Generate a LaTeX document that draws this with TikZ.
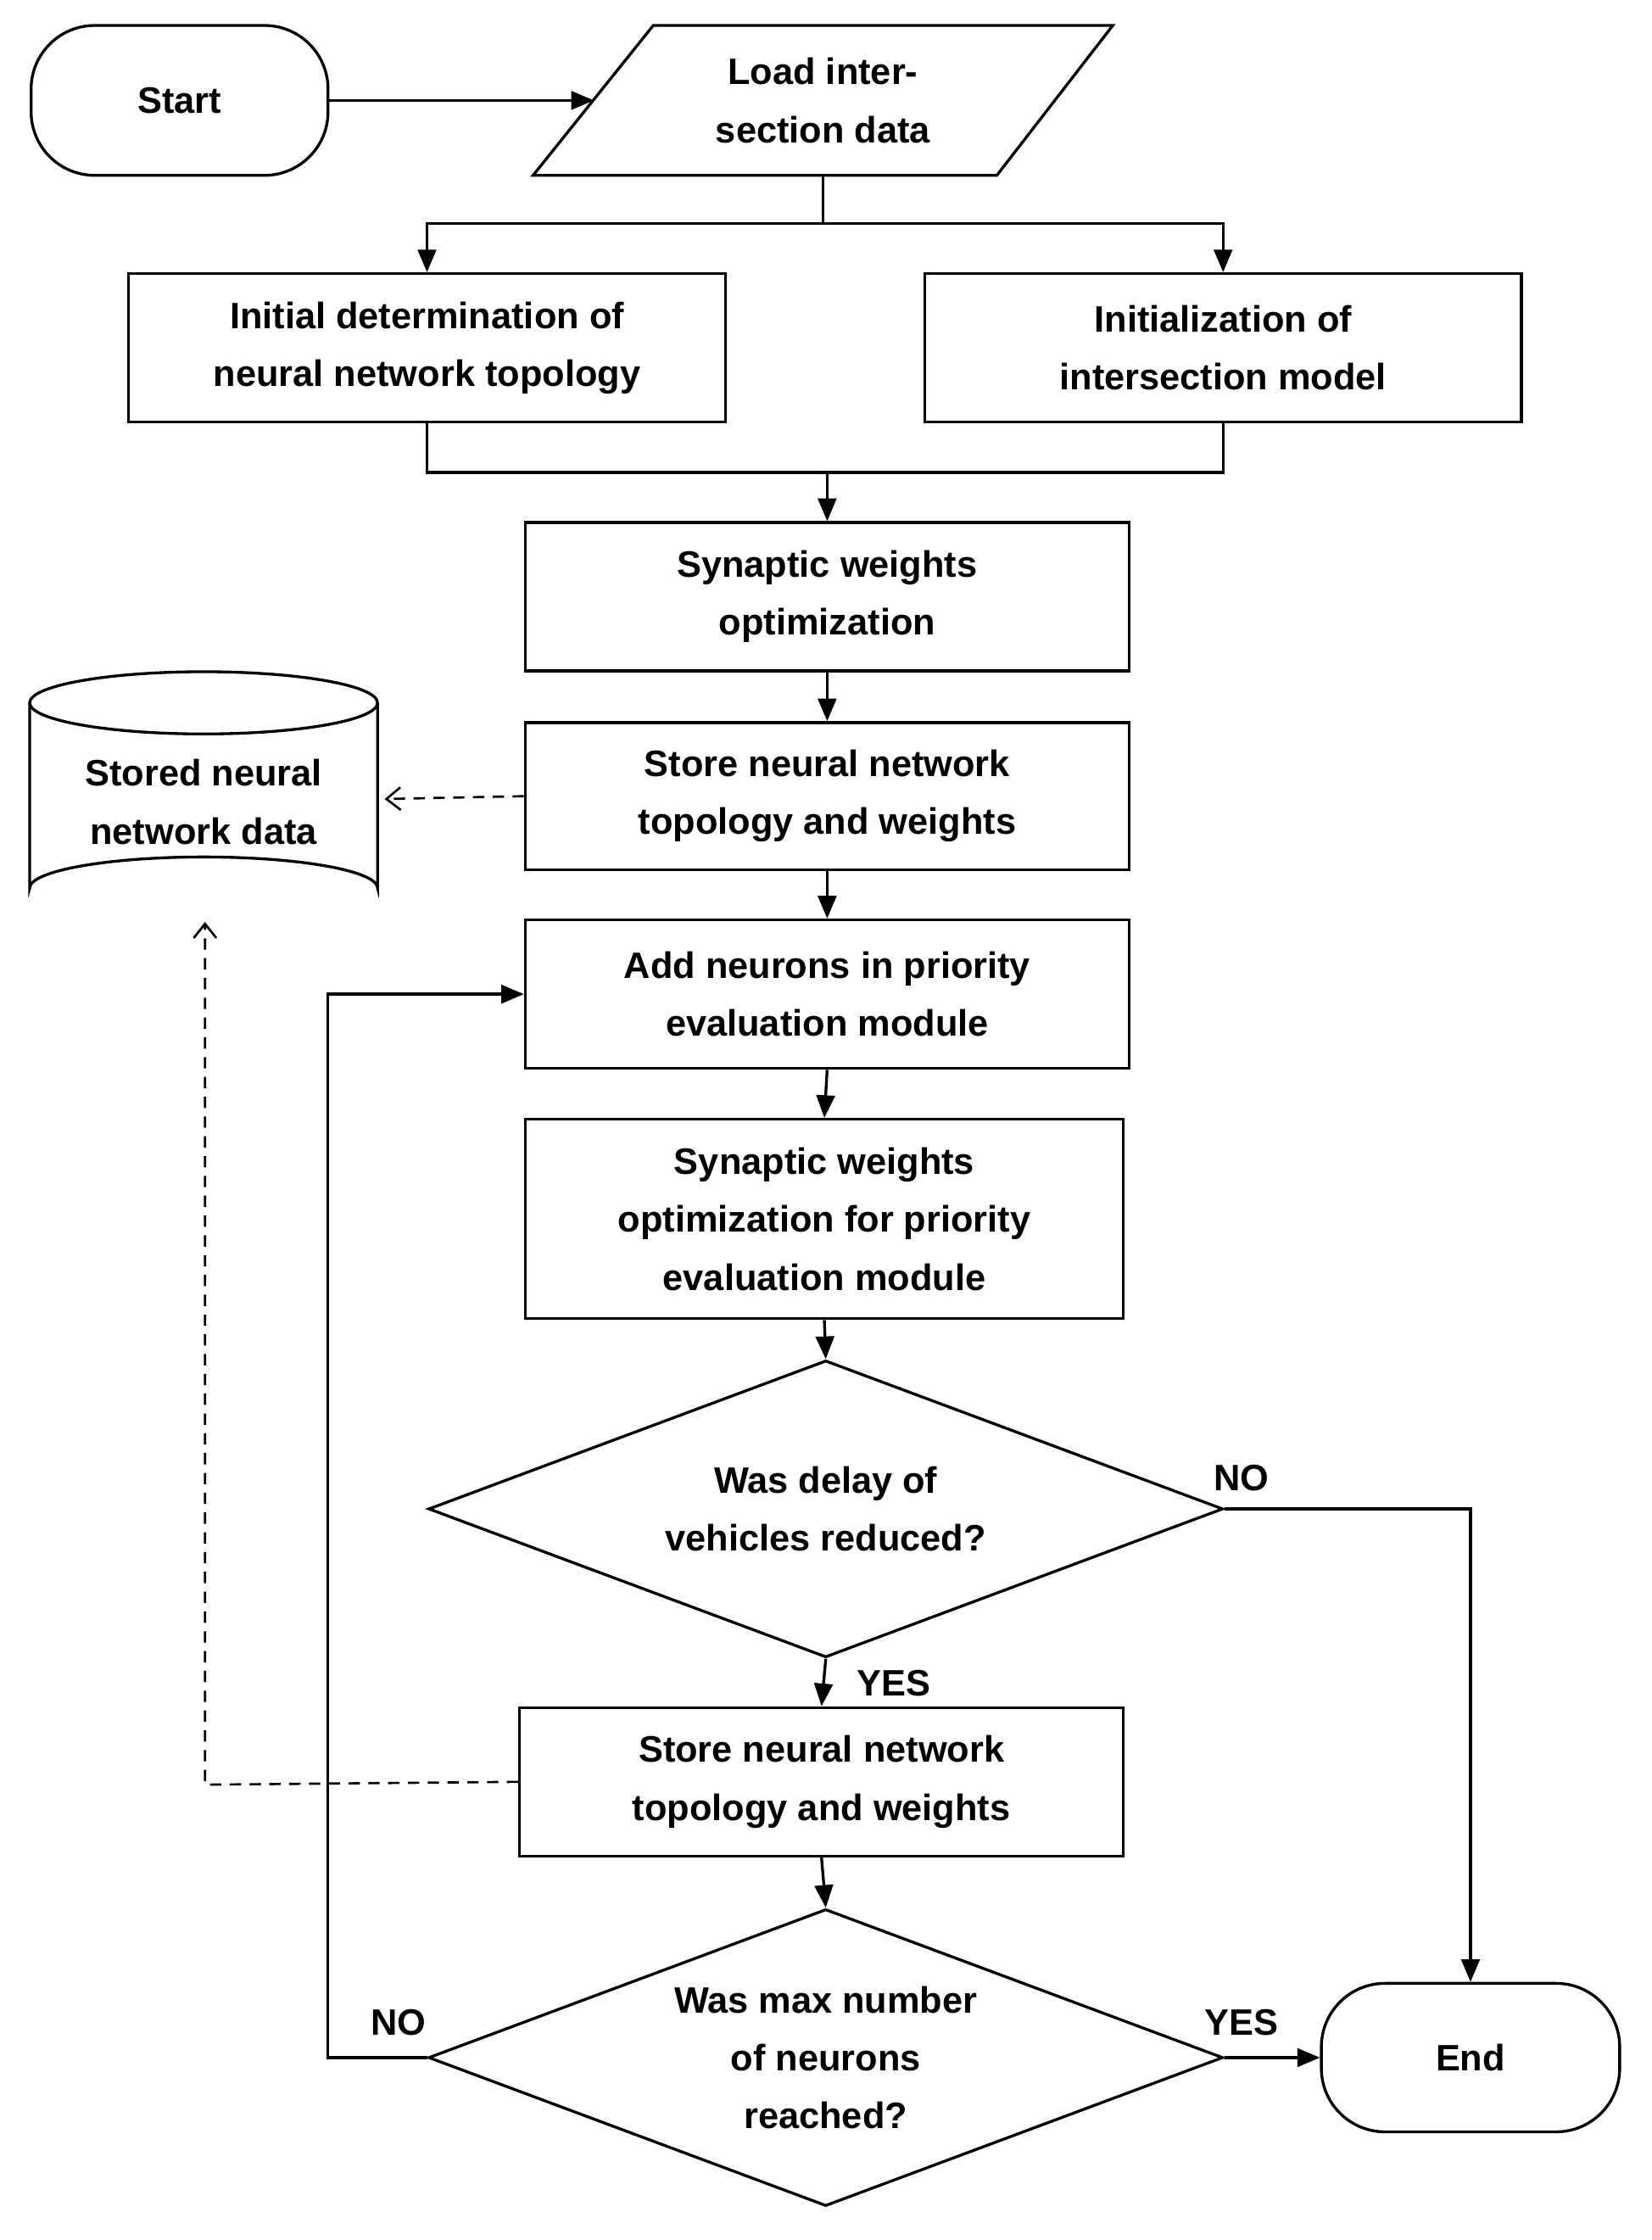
\documentclass[tikz,border=0pt]{standalone}
\usepackage{fontspec}
\setmainfont{Liberation Sans}
\usetikzlibrary{arrows.meta,shapes.geometric}
\begin{document}
\begin{tikzpicture}[x=1pt,y=-1pt,line width=2pt,
  txt/.style={font=\fontsize{26}{41}\selectfont\bfseries,align=center},
  box/.style={draw,txt,inner sep=0pt},
  arr/.style={-{Triangle[length=16,width=13]}},
  dsh/.style={dashed,dash pattern=on 8pt off 6pt,line width=1.6pt,-{Straight Barb[length=10,width=16]}}]
\useasboundingbox[fill=white] (0,0) rectangle (1168,1584);
% start
\node[box,rounded corners=45pt,minimum width=210,minimum height=106] (start) at (127,71) {Start};
% load
\draw (462,18) -- (787,18) -- (705,124) -- (377,124) -- cycle;
\node[txt,minimum width=250,minimum height=106,inner sep=0pt] (load) at (582,71) {Load inter-\\section data};
\coordinate (loadin) at (420,71);
\draw[arr] (start.east) -- (loadin);
% boxes
\node[box,minimum width=422,minimum height=105] (b1) at (302,246) {Initial determination of\\neural network topology};
\node[box,minimum width=422,minimum height=105] (b2) at (865,246) {Initialization  of\\intersection model};
\coordinate (split) at (582,158);
\draw (load.south) -- (split);
\draw[arr] (split) -| (b1.north);
\draw[arr] (split) -| (b2.north);
\node[box,minimum width=427,minimum height=105] (b3) at (585,422) {Synaptic weights\\optimization};
\coordinate (merge) at (585,334);
\draw (b1.south) |- (merge);
\draw (b2.south) |- (merge);
\draw[arr] (merge) -- (b3.north);
\node[box,minimum width=427,minimum height=104] (b4) at (585,563) {Store neural network\\topology and weights};
\draw[arr] (b3) -- (b4);
% cylinder
\draw (21,497) -- (21,628) arc[start angle=180,end angle=360,x radius=123,y radius=22] -- (267,497);
\draw (144,497) ellipse[x radius=123,y radius=22];
\node[txt] (store) at (144,567) {Stored neural\\network data};
\coordinate (storeE) at (272,565);
\coordinate (storeS) at (145,652);
\draw[dsh] (b4.west) -- (storeE);
\node[box,minimum width=427,minimum height=105] (b5) at (585,703) {Add neurons in priority\\evaluation module};
\draw[arr] (b4) -- (b5);
\node[box,minimum width=423,minimum height=141] (b6) at (583,862) {Synaptic weights\\optimization for priority\\evaluation module};
\draw[arr] (b5.south) -- (b6.north);
\node[draw,diamond,aspect=2.676,minimum width=562,minimum height=210,inner sep=0pt,txt] (d1) at (584,1067) {Was delay of\\vehicles reduced?};
\draw[arr] (b6.south) -- (d1.north);
\node[box,minimum width=427,minimum height=105] (b7) at (581,1260) {Store neural network\\topology and weights};
\draw[arr] (d1.south) -- (b7.north);
\node[txt,anchor=west] (yes1) at (602,1190) {YES};
\node[draw,diamond,aspect=2.676,minimum width=562,minimum height=210,inner sep=0pt,txt] (d2) at (584,1455) {Was max number\\of neurons\\reached?};
\draw[arr] (b7.south) -- (d2.north);
\node[box,rounded corners=45pt,minimum width=211,minimum height=105] (end) at (1040,1455) {End};
\node[txt] (no1) at (878,1045) {NO};
\draw[arr] (d1.east) -| (end.north);
\node[txt] (yes2) at (878,1430) {YES};
\draw[arr] (d2.east) -- (end.west);
\node[txt] (no2) at (282,1430) {NO};
\coordinate (lp) at (232,1455);
\draw[arr] (d2.west) -- (lp) |- (b5.west);
\coordinate (dc) at (145,1262);
\draw[dsh] (b7.west) -- (dc) -- (storeS);
\end{tikzpicture}
\end{document}
